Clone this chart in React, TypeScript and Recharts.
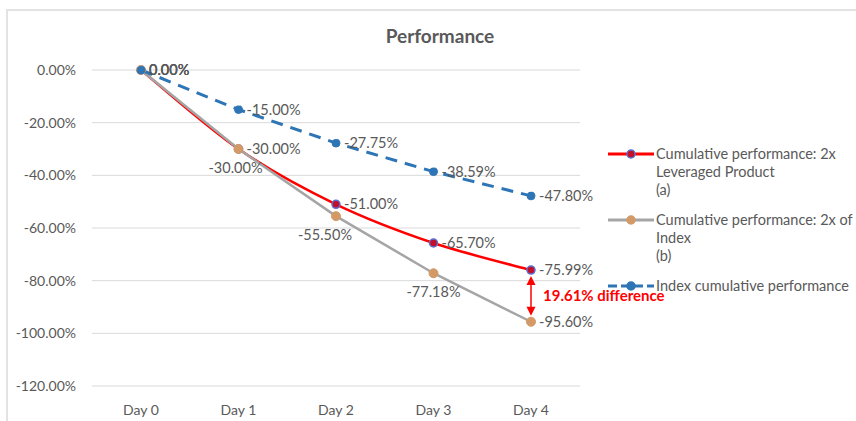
import {
  LineChart,
  Line,
  XAxis,
  YAxis,
  CartesianGrid,
  LabelList,
  ReferenceLine,
} from "recharts";

const DAYS = ["Day 0", "Day 1", "Day 2", "Day 3", "Day 4"];
const LEVERAGED = [0, -30, -51, -65.7, -75.99];
const TWO_X_INDEX = [0, -30, -55.5, -77.18, -95.6];
const INDEX = [0, -15, -27.75, -38.59, -47.8];
const Y_TICKS = [0, -20, -40, -60, -80, -100, -120];

const FONT = "Lato, 'Open Sans', sans-serif";
const TEXT = "#595959";

const data = DAYS.map((day, i) => ({
  day,
  leveraged: LEVERAGED[i],
  twoX: TWO_X_INDEX[i],
  index: INDEX[i],
}));

const last = DAYS.length - 1;
const diff = LEVERAGED[last] - TWO_X_INDEX[last];

const fmt = (v: number) => `${v.toFixed(2)}%`;

const LEGEND = [
  { lines: ["Cumulative performance: 2x", "Leveraged Product", "(a)"], stroke: "#ff0000", dash: undefined, fill: "#c0102a", ring: "#5b6fd0" },
  { lines: ["Cumulative performance: 2x of", "Index", "(b)"], stroke: "#a5a5a5", dash: undefined, fill: "#d39a68", ring: "#d39a68" },
  { lines: ["Index cumulative performance"], stroke: "#2e75b6", dash: "9 4", fill: "#2e75b6", ring: "#2e75b6" },
];

// Excel-like smoothed line (catmull-rom style, end tangents along the chord)
function excelSmooth(context: any) {
  let pts: [number, number][] = [];
  return {
    areaStart() {},
    areaEnd() {},
    lineStart() {
      pts = [];
    },
    point(x: number, y: number) {
      pts.push([+x, +y]);
    },
    lineEnd() {
      if (!pts.length) return;
      context.moveTo(pts[0][0], pts[0][1]);
      for (let i = 0; i < pts.length - 1; i++) {
        const p0 = pts[Math.max(i - 1, 0)];
        const p1 = pts[i];
        const p2 = pts[i + 1];
        const p3 = pts[Math.min(i + 2, pts.length - 1)];
        context.bezierCurveTo(
          p1[0] + (p2[0] - p0[0]) / 6,
          p1[1] + (p2[1] - p0[1]) / 6,
          p2[0] - (p3[0] - p1[0]) / 6,
          p2[1] - (p3[1] - p1[1]) / 6,
          p2[0],
          p2[1]
        );
      }
    },
  };
}

function RightLabel(props: any) {
  const { x, y, value } = props;
  return (
    <text x={x + 8} y={y} dy={5} fill={TEXT} fontSize={14.5} fontFamily={FONT}>
      {fmt(value)}
    </text>
  );
}

const GRAY_DX = [0, -3, -11, 0, 0];

// the 2x-of-index labels sit under the line except at the ends
function GrayLabel(props: any) {
  const { x, y, value, index } = props;
  if (index === 0 || index === last) return <RightLabel {...props} />;
  return (
    <text x={x + GRAY_DX[index]} y={y + 24} textAnchor="middle" fill={TEXT} fontSize={14.5} fontFamily={FONT}>
      {fmt(value)}
    </text>
  );
}

function DiffArrow(props: any) {
  const { x1, y1, x2, y2 } = props;
  const top = Math.min(y1, y2) + 6;
  const bot = Math.max(y1, y2) - 6;
  const mid = (top + bot) / 2;
  return (
    <g>
      <line x1={x1} y1={top + 8} x2={x2} y2={bot - 8} stroke="#ff0000" strokeWidth={1.5} />
      <polygon points={`${x1},${top} ${x1 - 4.5},${top + 9} ${x1 + 4.5},${top + 9}`} fill="#ff0000" />
      <polygon points={`${x1},${bot} ${x1 - 4.5},${bot - 9} ${x1 + 4.5},${bot - 9}`} fill="#ff0000" />
      <text x={x1 + 12} y={mid} dy={5} fill="#ff0000" fontWeight="bold" fontSize={15} fontFamily={FONT}>
        {`${Math.abs(diff).toFixed(2)}% difference`}
      </text>
    </g>
  );
}

function LegendBox() {
  return (
    <div
      style={{
        position: "absolute",
        left: 606,
        top: 145,
        width: 250,
        fontFamily: FONT,
        fontSize: 14.5,
        color: TEXT,
        lineHeight: "18px",
        whiteSpace: "nowrap",
      }}
    >
      {LEGEND.map((item, i) => (
        <div key={i} style={{ display: "flex", alignItems: "flex-start", marginBottom: 12 }}>
          <svg width={50} height={18} style={{ flex: "none" }}>
            <line x1={2} y1={9} x2={48} y2={9} stroke={item.stroke} strokeWidth={3} strokeDasharray={item.dash} />
            <circle cx={25} cy={9} r={4} fill={item.fill} stroke={item.ring} strokeWidth={1.5} />
          </svg>
          <div style={{ marginLeft: 0 }}>
            {item.lines.map((l, j) => (
              <div key={j}>{l}</div>
            ))}
          </div>
        </div>
      ))}
    </div>
  );
}

export default function App() {
  return (
    <div style={{ position: "absolute", left: 0, top: 0, width: 856, height: 421, overflow: "hidden", background: "#fff" }}>
      <div
        style={{
          position: "absolute",
          left: 6,
          top: 9,
          width: 900,
          height: 500,
          borderLeft: "2px solid #e3e3e3",
          borderTop: "2px solid #e3e3e3",
        }}
      />
      <div
        style={{
          position: "absolute",
          left: 338,
          width: 204,
          top: 24,
          textAlign: "center",
          fontFamily: FONT,
          fontWeight: "bold",
          fontSize: 19,
          color: TEXT,
        }}
      >
        Performance
      </div>
      <LineChart width={856} height={421} data={data} margin={{ top: 70, right: 276, bottom: 0, left: 0 }}>
        <CartesianGrid stroke="#d9d9d9" vertical={false} />
        <XAxis
          dataKey="day"
          axisLine={false}
          tickLine={false}
          height={35}
          tickMargin={13}
          padding={{ left: 49, right: 49 }}
          tick={{ fill: TEXT, fontSize: 14, fontFamily: FONT }}
        />
        <YAxis
          domain={[-120, 0]}
          ticks={Y_TICKS}
          width={92}
          axisLine={false}
          tickLine={false}
          tickMargin={10}
          tickFormatter={fmt}
          tick={{ fill: TEXT, fontSize: 14, fontFamily: FONT }}
        />
        <Line
          dataKey="leveraged"
          type={excelSmooth as any}
          stroke="#ff0000"
          strokeWidth={2.5}
          dot={{ r: 4, fill: "#c0102a", stroke: "#5b6fd0", strokeWidth: 1.5 }}
          isAnimationActive={false}
        >
          <LabelList dataKey="leveraged" content={RightLabel} />
        </Line>
        <Line
          dataKey="twoX"
          type="linear"
          stroke="#a5a5a5"
          strokeWidth={2.5}
          dot={{ r: 4.5, fill: "#d39a68", stroke: "#d39a68", strokeWidth: 1 }}
          isAnimationActive={false}
        >
          <LabelList dataKey="twoX" content={GrayLabel} />
        </Line>
        <Line
          dataKey="index"
          type="linear"
          stroke="#2e75b6"
          strokeWidth={3}
          strokeDasharray="12 8"
          dot={{ r: 4, fill: "#2e75b6", stroke: "#2e75b6", strokeWidth: 1 }}
          isAnimationActive={false}
        >
          <LabelList dataKey="index" content={RightLabel} />
        </Line>
        <ReferenceLine
          segment={[
            { x: DAYS[last], y: LEVERAGED[last] },
            { x: DAYS[last], y: TWO_X_INDEX[last] },
          ]}
          shape={DiffArrow}
        />
      </LineChart>
      <LegendBox />
    </div>
  );
}
